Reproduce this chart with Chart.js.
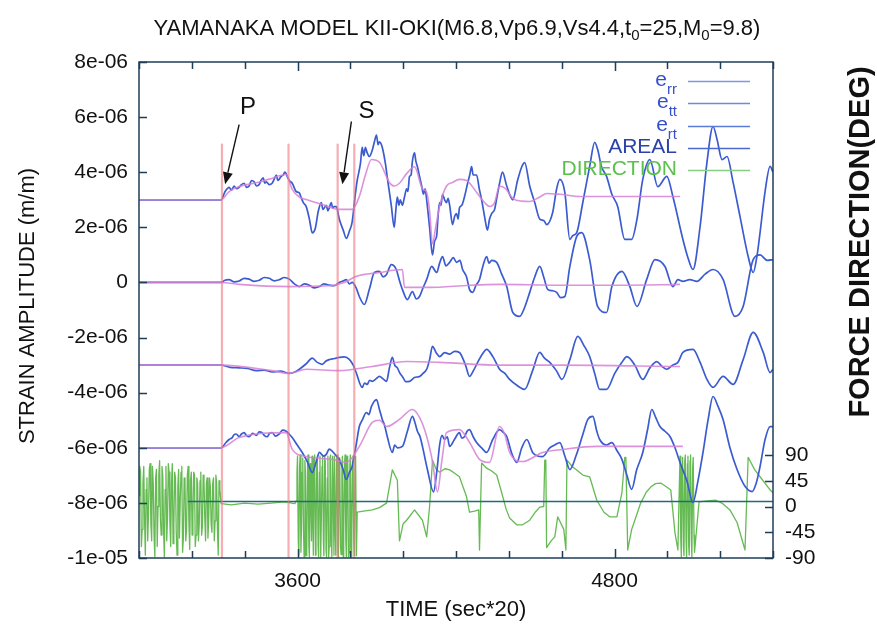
<!DOCTYPE html>
<html>
<head>
<meta charset="utf-8">
<script src="https://cdn.jsdelivr.net/npm/chart.js@4/dist/chart.umd.min.js"></script>
<style>
  html, body { margin: 0; padding: 0; background: #ffffff; }
  #wrap { width: 877px; height: 628px; }
</style>
</head>
<body>
<div id="wrap"><canvas id="c" width="877" height="628"></canvas></div>
<script>
// ---------------- DATA (time in sec*20, strain in units of 1e-06, direction in degrees) ----------------
const timeTickLabels = [3600, 4800];
const strainTickValues = [8, 6, 4, 2, 0, -2, -4, -6, -8, -10];
const strainTickLabels = ['8e-06', '6e-06', '4e-06', '2e-06', '0', '-2e-06', '-4e-06', '-6e-06', '-8e-06', '-1e-05'];
const directionTickValues = [-90, -45, 0, 45, 90];

const seriesNames = ['e_rr', 'e_tt', 'e_rt', 'AREAL', 'DIRECTION'];

// observed strain traces (offset for display)
const errTrace = [[3000,3.0],[3311,3.0],[3326,3.3],[3341,3.45],[3350,3.35],[3360,3.5],[3369,3.4],[3379,3.45],[3388,3.55],[3398,3.6],[3407,3.45],[3417,3.5],[3426,3.7],[3436,3.65],[3445,3.5],[3455,3.55],[3462,3.7],[3470,3.8],[3476,3.6],[3482,3.65],[3493,3.55],[3504,3.6],[3512,3.75],[3520,3.9],[3525,3.7],[3531,3.75],[3538,3.85],[3546,3.9],[3552,4.0],[3557,3.95],[3563,3.8],[3569,3.7],[3580,3.6],[3595,3.3],[3607,3.25],[3615,3.05],[3622,2.9],[3633,2.75],[3645,2.3],[3656,1.8],[3667,1.95],[3679,2.6],[3690,2.9],[3696,2.65],[3701,2.7],[3709,2.8],[3715,2.6],[3720,2.7],[3728,2.9],[3733,2.7],[3739,2.75],[3747,2.75],[3758,2.3],[3773,1.9],[3785,1.6],[3796,1.85],[3807,2.2],[3819,3.2],[3826,3.7],[3838,4.3],[3845,4.9],[3851,4.6],[3857,4.9],[3864,4.7],[3872,4.57],[3883,4.8],[3891,5.1],[3899,5.35],[3905,5.0],[3910,5.1],[3921,4.9],[3933,4.3],[3940,3.8],[3955,2.8],[3966,2.0],[3972,2.6],[3978,3.1],[3984,2.8],[3989,3.0],[3997,2.8],[4005,3.1],[4013,3.4],[4018,3.3],[4024,3.85],[4030,3.9],[4035,4.4],[4043,4.7],[4048,4.4],[4054,4.2],[4062,3.85],[4070,3.5],[4077,3.2],[4083,3.4],[4089,3.0],[4100,2.0],[4111,1.0],[4119,1.5],[4127,1.7],[4132,2.4],[4138,2.9],[4143,2.8],[4149,3.2],[4157,3.0],[4164,2.9],[4170,3.05],[4176,2.8],[4187,2.1],[4195,2.4],[4202,2.5],[4208,2.3],[4213,2.7],[4222,2.8],[4232,3.1],[4244,3.6],[4252,3.9],[4259,4.2],[4265,3.9],[4270,3.9],[4278,3.9],[4288,3.4],[4297,3.0],[4308,2.4],[4319,1.9],[4327,2.3],[4335,2.5],[4346,2.65],[4355,3.1],[4365,3.6],[4376,4.0],[4392,3.5],[4415,3.0],[4433,3.7],[4449,4.2],[4460,4.35],[4479,3.5],[4498,2.9],[4517,2.3],[4532,2.25],[4543,2.1],[4566,2.54],[4581,3.4],[4593,3.74],[4612,3.27],[4631,1.56],[4642,1.7],[4657,1.81],[4680,2.9],[4706,4.21],[4725,5.08],[4736,4.83],[4751,4.2],[4770,3.85],[4790,3.2],[4812,2.76],[4839,1.56],[4865,1.56],[4885,2.29],[4907,3.74],[4934,4.46],[4964,3.48],[4998,3.85],[5021,3.12],[5059,1.56],[5078,0.9],[5097,0.47],[5124,2.03],[5150,4.36],[5173,5.66],[5188,5.2],[5207,4.46],[5226,4.57],[5249,3.63],[5275,2.4],[5306,0.94],[5325,0.36],[5340,1.0],[5351,1.81],[5370,3.3],[5389,4.21],[5400,4.0]];

const ettTrace = [[3000,0],[3311,0],[3325,0.08],[3341,0.1],[3360,0.02],[3379,0.05],[3398,0.15],[3417,0.12],[3436,0.04],[3455,0.08],[3474,0.18],[3493,0.15],[3512,0.06],[3531,0.1],[3550,0.18],[3569,0.12],[3588,-0.05],[3607,-0.15],[3626,-0.05],[3645,-0.1],[3664,-0.2],[3683,-0.15],[3700,-0.05],[3720,-0.1],[3740,-0.12],[3758,0.0],[3772,0.05],[3785,0.1],[3796,-0.05],[3807,0.0],[3822,-0.2],[3834,-0.51],[3853,-0.8],[3872,-0.25],[3891,0.36],[3910,0.4],[3924,0.2],[3937,0.29],[3955,0.65],[3974,0.47],[3985,0.1],[3997,-0.25],[4016,-0.62],[4035,-0.33],[4050,-0.6],[4062,-0.51],[4075,-0.2],[4089,0.11],[4108,0.58],[4127,0.36],[4138,0.7],[4149,0.94],[4162,0.6],[4176,0.73],[4190,0.9],[4202,0.73],[4215,0.8],[4225,0.47],[4240,0.2],[4251,-0.25],[4263,-0.36],[4276,-0.1],[4289,0.11],[4302,0.6],[4316,0.94],[4325,0.7],[4335,0.8],[4354,0.73],[4373,0.3],[4392,-0.15],[4415,-1.09],[4441,-1.23],[4460,-0.9],[4479,-0.36],[4498,0.2],[4517,0.58],[4532,0.2],[4547,-0.25],[4565,-0.3],[4581,-0.36],[4596,-0.55],[4612,-0.51],[4631,0.58],[4657,1.67],[4676,1.81],[4706,0.83],[4736,-0.87],[4770,-1.09],[4790,-0.15],[4828,0.4],[4858,-0.15],[4885,-0.87],[4922,0.11],[4953,0.83],[4991,0.58],[5021,-0.15],[5040,0.1],[5059,0.04],[5085,0.1],[5112,0.04],[5143,0.3],[5173,0.47],[5211,0.11],[5256,-1.23],[5287,-0.87],[5325,0.83],[5351,1.0],[5378,0.8],[5400,0.83]];

const ertTrace = [[3000,-3.0],[3311,-3.0],[3345,-3.08],[3379,-3.1],[3410,-3.12],[3444,-3.2],[3474,-3.18],[3504,-3.25],[3535,-3.22],[3569,-3.3],[3590,-3.25],[3607,-3.15],[3633,-2.95],[3656,-2.75],[3675,-2.9],[3694,-2.97],[3708,-2.85],[3720,-2.8],[3740,-2.76],[3758,-2.72],[3777,-2.7],[3796,-2.79],[3811,-3.0],[3822,-3.27],[3845,-3.81],[3854,-3.65],[3864,-3.7],[3873,-3.55],[3883,-3.59],[3897,-3.5],[3910,-3.41],[3924,-3.5],[3937,-3.59],[3948,-3.1],[3959,-2.72],[3968,-3.0],[3978,-3.1],[3988,-3.3],[3997,-3.41],[4010,-3.6],[4024,-3.59],[4043,-3.45],[4062,-3.41],[4075,-3.3],[4089,-3.15],[4100,-2.8],[4111,-2.32],[4125,-2.55],[4138,-2.69],[4157,-2.55],[4176,-2.6],[4195,-2.5],[4213,-2.54],[4236,-3.0],[4251,-3.41],[4266,-3.2],[4282,-2.9],[4300,-2.6],[4316,-2.43],[4340,-2.7],[4365,-3.15],[4385,-3.3],[4403,-3.52],[4433,-3.75],[4460,-3.88],[4490,-3.2],[4517,-2.54],[4535,-2.75],[4555,-2.9],[4580,-3.2],[4601,-3.52],[4631,-2.8],[4661,-1.96],[4685,-2.3],[4706,-2.69],[4725,-3.3],[4744,-3.88],[4770,-3.88],[4801,-3.3],[4828,-2.9],[4847,-2.69],[4877,-3.0],[4907,-3.52],[4934,-3.1],[4960,-2.87],[4980,-3.05],[4998,-3.15],[5020,-3.0],[5040,-2.9],[5059,-2.54],[5097,-2.43],[5124,-2.9],[5150,-3.52],[5173,-3.81],[5211,-3.41],[5249,-3.7],[5287,-2.8],[5325,-1.81],[5363,-2.54],[5389,-3.27],[5400,-3.15]];

const arealTrace = [[3000,-6.0],[3311,-6.0],[3330,-5.8],[3341,-5.7],[3353,-5.63],[3360,-5.52],[3368,-5.5],[3379,-5.59],[3388,-5.5],[3398,-5.45],[3407,-5.56],[3417,-5.6],[3430,-5.48],[3444,-5.55],[3455,-5.42],[3466,-5.45],[3475,-5.56],[3485,-5.6],[3494,-5.48],[3504,-5.45],[3517,-5.58],[3531,-5.5],[3544,-5.36],[3557,-5.4],[3568,-5.5],[3580,-5.63],[3599,-5.9],[3618,-6.17],[3637,-6.5],[3656,-6.9],[3671,-6.5],[3683,-6.17],[3698,-6.3],[3709,-6.24],[3720,-6.05],[3732,-6.13],[3747,-6.3],[3758,-6.42],[3773,-6.8],[3785,-7.15],[3796,-6.9],[3807,-6.68],[3822,-5.9],[3834,-5.23],[3845,-5.0],[3861,-4.72],[3870,-4.8],[3880,-4.5],[3899,-4.25],[3910,-4.6],[3921,-4.97],[3930,-5.2],[3940,-5.6],[3959,-6.17],[3968,-5.9],[3978,-6.0],[3997,-5.95],[4016,-5.4],[4035,-4.86],[4045,-5.1],[4054,-5.4],[4064,-5.6],[4073,-5.95],[4092,-6.8],[4115,-7.6],[4128,-6.8],[4138,-5.9],[4147,-5.55],[4157,-5.7],[4167,-5.6],[4176,-5.95],[4194,-5.7],[4213,-5.45],[4222,-5.65],[4232,-5.6],[4242,-5.4],[4251,-5.34],[4265,-5.6],[4278,-5.81],[4297,-6.0],[4316,-6.17],[4339,-5.7],[4365,-5.34],[4380,-5.45],[4392,-5.59],[4411,-6.2],[4430,-6.53],[4449,-6.0],[4468,-5.7],[4490,-6.17],[4509,-6.3],[4528,-6.32],[4555,-6.0],[4574,-5.9],[4593,-5.81],[4612,-6.3],[4631,-6.79],[4654,-6.3],[4680,-5.52],[4699,-4.97],[4718,-4.86],[4733,-5.4],[4744,-5.7],[4770,-5.9],[4790,-5.81],[4809,-6.1],[4828,-6.42],[4847,-7.0],[4865,-7.51],[4884,-6.8],[4907,-6.17],[4926,-5.3],[4941,-4.61],[4956,-4.9],[4972,-5.23],[4991,-5.4],[5010,-5.59],[5029,-6.0],[5048,-6.53],[5074,-7.2],[5097,-7.99],[5116,-7.2],[5135,-6.17],[5154,-5.0],[5173,-4.14],[5192,-4.5],[5211,-4.97],[5237,-6.0],[5264,-6.79],[5294,-7.4],[5321,-7.59],[5336,-7.3],[5351,-6.68],[5370,-5.7],[5389,-5.23],[5400,-5.23]];

// synthetic (model) traces
const errModel = [[3000,3.0],[3311,3.0],[3341,3.3],[3379,3.48],[3436,3.6],[3493,3.75],[3557,3.92],[3580,3.38],[3607,3.1],[3633,3.01],[3694,2.83],[3758,2.65],[3807,2.65],[3834,3.12],[3857,3.9],[3880,4.46],[3910,4.36],[3948,3.63],[3966,3.5],[3986,3.6],[4013,3.95],[4043,4.2],[4073,3.4],[4089,3.27],[4100,2.6],[4111,1.4],[4123,2.0],[4138,2.76],[4164,3.5],[4187,3.63],[4213,3.74],[4240,3.7],[4278,3.27],[4308,2.9],[4327,2.76],[4346,2.9],[4365,3.5],[4388,3.4],[4415,3.05],[4449,2.95],[4479,2.94],[4517,3.1],[4543,3.23],[4593,3.2],[4668,3.12],[4858,3.12],[5048,3.12]];
const ettModel = [[3000,0],[3311,0],[3379,-0.07],[3569,-0.15],[3720,-0.12],[3777,0.0],[3822,0.22],[3910,0.36],[3997,0.47],[4005,-0.18],[4100,-0.18],[4251,-0.1],[4365,-0.07],[4593,-0.1],[4820,-0.1],[5048,-0.07]];
const ertModel = [[3000,-3.0],[3311,-3.0],[3504,-3.2],[3569,-3.3],[3633,-3.15],[3758,-3.2],[3883,-3.05],[4013,-2.87],[4138,-2.9],[4365,-3.0],[4593,-3.0],[5048,-3.05]];
const arealModel = [[3000,-6.0],[3311,-6.0],[3379,-5.63],[3557,-5.45],[3580,-6.06],[3633,-6.32],[3732,-6.42],[3785,-6.53],[3834,-5.95],[3883,-5.08],[3910,-5.0],[3937,-5.23],[3986,-4.97],[4035,-4.61],[4062,-4.9],[4089,-5.59],[4111,-6.5],[4130,-7.6],[4146,-6.5],[4164,-5.45],[4213,-5.34],[4251,-5.8],[4289,-6.42],[4327,-6.53],[4365,-5.23],[4384,-5.5],[4403,-6.17],[4452,-6.5],[4528,-6.17],[4604,-6.06],[4733,-5.95],[4858,-5.95],[5059,-5.95]];

// force direction (deg, right axis)
const directionTrace = [[3000,20],[3003,70],[3006,60],[3009,-70],[3012,-40],[3015,40],[3018,70],[3021,-20],[3024,-85],[3027,30],[3030,50],[3033,-60],[3036,-10],[3039,65],[3042,75],[3045,-30],[3048,-60],[3051,70],[3054,40],[3057,-50],[3060,-88],[3063,50],[3066,65],[3069,-70],[3072,0],[3075,55],[3078,80],[3081,-20],[3084,-50],[3087,70],[3090,55],[3093,-40],[3096,-88],[3099,30],[3102,70],[3105,-60],[3108,-20],[3111,75],[3114,60],[3117,-30],[3120,-70],[3123,40],[3126,75],[3129,-65],[3132,-30],[3135,60],[3138,50],[3141,-45],[3144,-85],[3147,35],[3150,65],[3153,-55],[3156,10],[3159,60],[3162,70],[3165,-80],[3168,-55],[3171,50],[3174,45],[3177,-60],[3180,-40],[3183,55],[3186,70],[3189,-30],[3192,-75],[3195,45],[3198,60],[3201,-50],[3204,-15],[3207,60],[3210,55],[3213,-70],[3216,-50],[3219,50],[3222,40],[3225,-60],[3228,-30],[3231,45],[3234,60],[3237,-50],[3240,-35],[3243,55],[3246,45],[3249,-20],[3252,-60],[3255,40],[3258,50],[3261,-55],[3264,-20],[3267,50],[3270,35],[3273,-30],[3276,-45],[3279,40],[3282,50],[3285,-60],[3288,-25],[3291,55],[3294,40],[3297,-40],[3300,-85],[3303,45],[3306,30],[3311,5],
[3350,3],[3400,6],[3450,4],[3500,6],[3550,8],[3590,5],
[3595,10],[3598,60],[3600,88],[3603,-60],[3605,-85],[3608,70],[3610,90],[3613,-80],[3615,-40],[3618,60],[3620,85],[3623,-50],[3625,-88],[3628,80],[3630,60],[3633,-86],[3635,-80],[3638,70],[3640,90],[3643,-70],[3645,-88],[3648,75],[3650,20],[3653,-60],[3655,88],[3658,-30],[3660,-85],[3663,85],[3665,90],[3668,-85],[3670,-60],[3673,80],[3675,86],[3678,-70],[3680,-88],[3683,60],[3685,88],[3688,-88],[3690,-30],[3693,70],[3695,90],[3698,-60],[3700,-86],[3703,88],[3705,80],[3708,-75],[3710,-88],[3713,50],[3715,88],[3718,-88],[3720,-70],[3723,85],[3725,90],[3728,-60],[3730,-88],[3733,88],[3735,40],[3738,-85],[3740,88],[3743,-40],[3745,-85],[3748,80],[3750,90],[3753,-80],[3755,-88],[3758,85],[3760,70],[3763,-70],[3765,-84],[3768,60],[3770,88],[3773,-88],[3775,-50],[3778,75],[3780,90],[3783,-60],[3785,-88],[3788,88],[3790,86],[3793,-88],[3795,-80],[3798,70],[3800,90],[3803,-70],[3805,-88],[3808,80],[3810,88],[3813,-60],[3815,-86],[3818,88],[3820,85],[3823,-86],[3826,-10],
[3850,-8],[3883,-6],[3910,-2],[3937,6],[3959,64],[3978,46],[3986,-60],[4000,-30],[4013,-24],[4043,-6],[4073,-24],[4089,-53],[4100,0],[4111,81],[4125,65],[4138,60],[4158,66],[4176,64],[4195,58],[4213,52],[4240,17],[4251,-10],[4270,-8],[4286,-6],[4289,-76],[4297,76],[4316,67],[4335,62],[4354,55],[4373,24],[4390,-5],[4403,-20],[4430,-32],[4452,-32],[4479,-24],[4500,-10],[4517,-1],[4532,0],[4536,81],[4540,81],[4543,-72],[4560,-60],[4574,-53],[4585,-18],[4608,-40],[4616,-76],[4620,81],[4640,70],[4657,64],[4680,55],[4706,52],[4733,11],[4760,-10],[4782,-18],[4809,-18],[4828,24],[4839,86],[4843,86],[4850,-76],[4865,-40],[4877,-24],[4899,6],[4920,25],[4937,34],[4955,40],[4975,41],[4995,35],[5013,29],[5029,-46],[5040,-76],
[5048,88],[5051,-60],[5053,-88],[5056,70],[5058,86],[5061,-70],[5063,-86],[5066,80],[5068,90],[5071,-60],[5073,-88],[5076,75],[5078,88],[5081,-70],[5083,-85],[5086,80],[5088,90],[5091,-60],[5093,-88],[5096,70],[5098,86],[5101,-50],[5103,-80],
[5120,8],[5150,10],[5184,11],[5210,5],[5237,-6],[5264,-28],[5294,-76],[5306,86],[5330,65],[5351,52],[5389,29],[5400,24]];

const referenceLine = [[3185,-7.95],[5400,-7.95]];
const phaseTimes = [3314, 3566, 3752, 3815];
const phaseSpan = [5.0, -10];
const arrivalLabels = ['P', 'S'];
const arrivalTips = [[3326, 3.56], [3770, 3.56]];
const arrivalTails = [[3379, 5.73], [3804, 5.84]];
const arrivalText = [[3413, 6.35], [3861, 6.2]];

// ---------------- CHART ----------------
const FONT = '"Liberation Sans", Arial, Helvetica, sans-serif';
const toXY = arr => arr.map(p => ({ x: p[0], y: p[1] }));

const BLUE = '#3b5bd0';
const PINK = 'rgba(214,128,214,0.85)';
const GREEN = 'rgba(84,178,64,0.9)';

const datasets = [];
[errTrace, ettTrace, ertTrace, arealTrace].forEach((tr, i) => {
  datasets.push({ label: seriesNames[i], data: toXY(tr), yAxisID: 'y', borderColor: BLUE, borderWidth: 1.7, cubicInterpolationMode: 'monotone', order: 3 });
});
[errModel, ettModel, ertModel, arealModel].forEach((tr, i) => {
  datasets.push({ label: seriesNames[i] + ' model', data: toXY(tr), yAxisID: 'y', borderColor: PINK, borderWidth: 1.6, cubicInterpolationMode: 'monotone', order: 2 });
});
datasets.push({ label: 'DIRECTION', data: toXY(directionTrace), yAxisID: 'y2', borderColor: GREEN, borderWidth: 1.3, tension: 0, order: 6 });
datasets.push({ label: 'zero', data: toXY(referenceLine), yAxisID: 'y', borderColor: '#1d6b7c', borderWidth: 1.3, tension: 0, order: 5 });
phaseTimes.forEach(t => {
  datasets.push({ label: 'phase', data: [{ x: t, y: phaseSpan[0] }, { x: t, y: phaseSpan[1] }], yAxisID: 'y', borderColor: 'rgba(236,120,130,0.6)', borderWidth: 2.2, tension: 0, order: 1 });
});
datasets.forEach(d => { d.pointRadius = 0; d.fill = false; });

const BORDER = '#1e3d58';
const INK = '#111111';

const decorPlugin = {
  id: 'decor',
  beforeDraw(chart) {
    const ctx = chart.ctx;
    ctx.save();
    ctx.fillStyle = '#ffffff';
    ctx.fillRect(0, 0, chart.width, chart.height);
    ctx.restore();
  },
  afterDraw(chart) {
    const ctx = chart.ctx;
    const a = chart.chartArea;
    const xs = chart.scales.x, ys = chart.scales.y, y2 = chart.scales.y2;
    ctx.save();
    // border
    ctx.strokeStyle = BORDER;
    ctx.lineWidth = 1.5;
    ctx.strokeRect(a.left, a.top, a.right - a.left, a.bottom - a.top);
    // inward ticks
    ctx.beginPath();
    for (let t = xs.min; t <= xs.max + 0.1; t += 200) {
      const px = Math.round(xs.getPixelForValue(t)) + 0.5;
      const len = timeTickLabels.includes(t) ? 9 : 7;
      ctx.moveTo(px, a.bottom); ctx.lineTo(px, a.bottom - len);
      ctx.moveTo(px, a.top); ctx.lineTo(px, a.top + len);
    }
    strainTickValues.forEach(v => {
      const py = Math.round(ys.getPixelForValue(v)) + 0.5;
      ctx.moveTo(a.left, py); ctx.lineTo(a.left + 8, py);
    });
    directionTickValues.forEach(v => {
      const py = Math.round(y2.getPixelForValue(v)) + 0.5;
      ctx.moveTo(a.right, py); ctx.lineTo(a.right - 8, py);
    });
    ctx.stroke();

    // arrows + phase labels
    ctx.strokeStyle = INK; ctx.fillStyle = INK; ctx.lineWidth = 1.4;
    arrivalTips.forEach((tip, i) => {
      const x1 = xs.getPixelForValue(arrivalTails[i][0]), y1 = ys.getPixelForValue(arrivalTails[i][1]);
      const x2 = xs.getPixelForValue(tip[0]), y2p = ys.getPixelForValue(tip[1]);
      const ang = Math.atan2(y2p - y1, x2 - x1);
      const hl = 12, hw = 5;
      const bx = x2 - hl * Math.cos(ang), by = y2p - hl * Math.sin(ang);
      ctx.beginPath(); ctx.moveTo(x1, y1); ctx.lineTo(bx, by); ctx.stroke();
      ctx.beginPath();
      ctx.moveTo(x2, y2p);
      ctx.lineTo(bx + hw * Math.sin(ang), by - hw * Math.cos(ang));
      ctx.lineTo(bx - hw * Math.sin(ang), by + hw * Math.cos(ang));
      ctx.closePath(); ctx.fill();
      ctx.font = '24px ' + FONT; ctx.textAlign = 'center'; ctx.textBaseline = 'middle';
      ctx.fillText(arrivalLabels[i], xs.getPixelForValue(arrivalText[i][0]), ys.getPixelForValue(arrivalText[i][1]));
    });

    // title with subscripts
    const titleParts = [
      ['YAMANAKA MODEL KII-OKI(M6.8,Vp6.9,Vs4.4,t', false], ['0', true], ['=25,M', false], ['0', true], ['=9.8)', false]
    ];
    const mainF = '22px ' + FONT, subF = '15px ' + FONT;
    let w = 0;
    titleParts.forEach(p => { ctx.font = p[1] ? subF : mainF; w += ctx.measureText(p[0]).width; });
    let tx = (a.left + a.right) / 2 - w / 2 + 1;
    ctx.fillStyle = INK; ctx.textAlign = 'left'; ctx.textBaseline = 'alphabetic';
    titleParts.forEach(p => {
      ctx.font = p[1] ? subF : mainF;
      ctx.fillText(p[0], tx, p[1] ? 40 : 35);
      tx += ctx.measureText(p[0]).width;
    });

    // axis titles
    ctx.fillStyle = INK;
    ctx.textAlign = 'center'; ctx.textBaseline = 'middle';
    ctx.font = '22px ' + FONT;
    ctx.fillText('TIME (sec*20)', (a.left + a.right) / 2, 610);
    ctx.save();
    ctx.translate(28, 306); ctx.rotate(-Math.PI / 2);
    ctx.font = '22px ' + FONT;
    ctx.fillText('STRAIN AMPLITUDE (m/m)', 0, 0);
    ctx.restore();
    ctx.save();
    ctx.translate(861, 242); ctx.rotate(-Math.PI / 2);
    ctx.font = 'bold 29px ' + FONT;
    ctx.fillText('FORCE DIRECTION(DEG)', 0, 0);
    ctx.restore();

    // legend (key)
    const rows = [
      { main: 'e', sub: 'rr', y: 81, text: '#3550c8', line: '#7d97e2' },
      { main: 'e', sub: 'tt', y: 103, text: '#3550c8', line: '#6c8ade' },
      { main: 'e', sub: 'rt', y: 126, text: '#3550c8', line: '#5b7bd8' },
      { main: 'AREAL', sub: '', y: 148, text: '#2a42aa', line: '#4b68cc' },
      { main: 'DIRECTION', sub: '', y: 170, text: '#5cc04c', line: '#86cf80' }
    ];
    const textRight = 677, lineL = 688, lineR = 750;
    rows.forEach(r => {
      ctx.textBaseline = 'middle';
      ctx.textAlign = 'right';
      let x = textRight;
      if (r.sub) {
        ctx.font = '15px ' + FONT; ctx.fillStyle = r.text;
        ctx.fillText(r.sub, x, r.y + 9);
        x -= ctx.measureText(r.sub).width;
      }
      ctx.font = '21px ' + FONT; ctx.fillStyle = r.text;
      ctx.fillText(r.main, x, r.y - 1);
      ctx.strokeStyle = r.line; ctx.lineWidth = 1.6;
      ctx.beginPath(); ctx.moveTo(lineL, r.y + 0.5); ctx.lineTo(lineR, r.y + 0.5); ctx.stroke();
    });
    ctx.restore();
  }
};

const tickFont = { family: FONT, size: 21 };
new Chart(document.getElementById('c'), {
  type: 'line',
  data: { datasets },
  options: {
    responsive: false,
    animation: false,
    devicePixelRatio: 1,
    layout: { padding: { top: 62, left: 0, right: 0, bottom: 0 } },
    plugins: { legend: { display: false }, tooltip: { enabled: false }, title: { display: false } },
    elements: { line: { borderCapStyle: 'butt', borderJoinStyle: 'round' } },
    scales: {
      x: {
        type: 'linear', min: 3000, max: 5400,
        grid: { display: false, drawTicks: false }, border: { display: false },
        ticks: {
          stepSize: 200, autoSkip: false, maxRotation: 0, padding: 11, color: INK, font: tickFont,
          callback: v => timeTickLabels.includes(v) ? String(v) : ''
        },
        afterFit: s => { s.height = 70; }
      },
      y: {
        type: 'linear', position: 'left', min: -10, max: 8,
        grid: { display: false, drawTicks: false }, border: { display: false },
        ticks: {
          stepSize: 2, padding: 11, color: INK, font: tickFont,
          callback: v => { const i = strainTickValues.indexOf(Math.round(v)); return i >= 0 ? strainTickLabels[i] : ''; }
        },
        afterFit: s => { s.width = 139; }
      },
      y2: {
        type: 'linear', position: 'right', min: -90, max: 777,
        grid: { display: false, drawTicks: false }, border: { display: false },
        afterBuildTicks: s => { s.ticks = directionTickValues.map(v => ({ value: v })); },
        ticks: { padding: 12, color: INK, font: tickFont, callback: v => String(v) },
        afterFit: s => { s.width = 104; }
      }
    }
  },
  plugins: [decorPlugin]
});
</script>
</body>
</html>
